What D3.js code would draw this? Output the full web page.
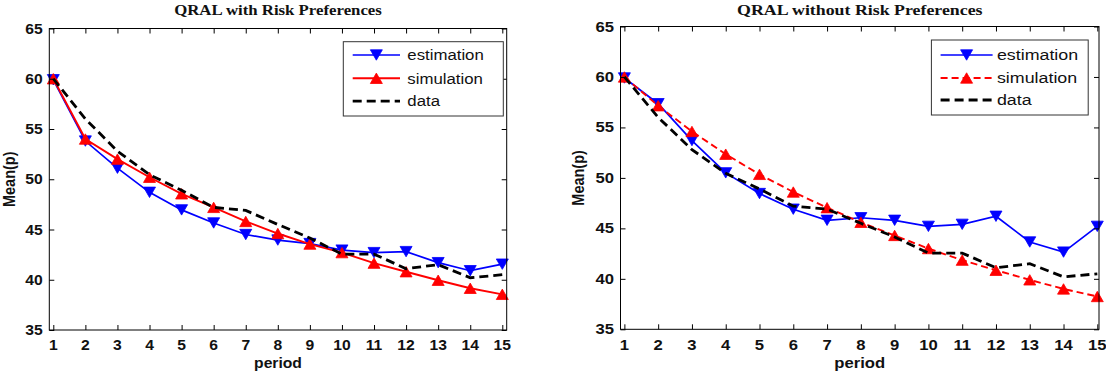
<!DOCTYPE html>
<html>
<head>
<meta charset="utf-8">
<script src="https://cdn.jsdelivr.net/npm/d3@7"></script>
<style>
  body { margin: 0; background: #fff; }
  svg { display: block; }
</style>
</head>
<body>
<svg id="chart"></svg>
<script>
// --- Data ---
const periods = [1, 2, 3, 4, 5, 6, 7, 8, 9, 10, 11, 12, 13, 14, 15];
const yTicks = [35, 40, 45, 50, 55, 60, 65];

// observed mean price (same in both panels)
const dataMean = [60, 56.0, 52.8, 50.45, 48.9, 47.2, 46.9, 45.5, 44.15, 42.55, 42.55, 41.1, 41.5, 40.2, 40.5];

// with risk preferences
const estWith = [59.9, 53.8, 51.1, 48.7, 46.95, 45.65, 44.5, 43.95, 43.6, 42.95, 42.7, 42.8, 41.7, 40.9, 41.55];
const simWith = [60, 54.0, 52.0, 50.2, 48.55, 47.2, 45.8, 44.6, 43.55, 42.7, 41.65, 40.8, 39.95, 39.15, 38.55];

// without risk preferences
const estWithout = [59.9, 57.35, 53.7, 50.5, 48.45, 46.9, 45.8, 46.05, 45.8, 45.2, 45.4, 46.2, 43.65, 42.65, 45.2];
const simWithout = [60, 57.15, 54.6, 52.35, 50.35, 48.6, 47.05, 45.6, 44.3, 43.0, 41.85, 40.85, 39.9, 39.0, 38.25];

const legendLabels = ["estimation", "simulation", "data"];

// Chart dimensions
const width = 1106;
const height = 375;

const svg = d3.select("#chart")
  .attr("width", width)
  .attr("height", height)
  .attr("viewBox", `0 0 ${width} ${height}`);

svg.append("rect").attr("width", width).attr("height", height).attr("fill", "#fff");

const panels = [
  {
    title: "QRAL with Risk Preferences",
    sx: 1.12, // the reference text is stretched horizontally
    left: 49.3, right: 506.7, top: 28.5, bottom: 330,
    xDomain: [0.875, 15.137],
    est: estWith, sim: simWith, simDash: null,
    legend: { x: 343.3, y: 41.7, w: 160, h: 74.3, lx1: 352.7, lx2: 400, tx: 407.3, rows: [55, 78.3, 101.2] },
    yLabelX: 10
  },
  {
    title: "QRAL without Risk Preferences",
    sx: 1.19,
    left: 620.5, right: 1099, top: 26.5, bottom: 329.3,
    xDomain: [0.885, 15.05],
    est: estWithout, sim: simWithout, simDash: "7,4",
    legend: { x: 931.4, y: 40, w: 156.8, h: 75, lx1: 940.6, lx2: 992.6, tx: 996.9, rows: [55, 78, 100] },
    yLabelX: 579
  }
];

const triangle = (down) => {
  const w = 6, h = 5.2;
  return down
    ? `M${-w},${-h}L${w},${-h}L0,${h}Z`
    : `M${-w},${h}L${w},${h}L0,${-h}Z`;
};

panels.forEach((p) => {
  const x = d3.scaleLinear().domain(p.xDomain).range([p.left, p.right]);
  const y = d3.scaleLinear().domain([35, 65]).range([p.bottom, p.top]);
  const g = svg.append("g");

  // place a text with the horizontal stretch of this panel
  const placeText = (sel, tx, ty, extra = "") =>
    sel.attr("transform", `translate(${tx},${ty}) scale(${p.sx},1)${extra}`);

  // --- 1. Title ---
  placeText(g.append("text"), (p.left + p.right) / 2, 15)
    .attr("text-anchor", "middle")
    .style("font-family", "'Liberation Serif', 'Times New Roman', serif")
    .style("font-size", "15px")
    .style("font-weight", "bold")
    .style("fill", "#111")
    .text(p.title);

  // --- 2. Lines and markers ---
  const line = d3.line().x((d, i) => x(periods[i])).y((d) => y(d));

  g.append("path")
    .attr("d", line(p.est))
    .attr("fill", "none")
    .attr("stroke", "#0000ff")
    .attr("stroke-width", 1.7);

  g.selectAll(".est-mark")
    .data(p.est)
    .join("path")
    .attr("class", "est-mark")
    .attr("transform", (d, i) => `translate(${x(periods[i])},${y(d)})`)
    .attr("d", triangle(true))
    .attr("fill", "#0000ff")
    .attr("stroke", "#0000ff")
    .attr("stroke-width", 0.8);

  g.append("path")
    .attr("d", line(p.sim))
    .attr("fill", "none")
    .attr("stroke", "#ff0000")
    .attr("stroke-width", 1.9)
    .attr("stroke-dasharray", p.simDash);

  g.selectAll(".sim-mark")
    .data(p.sim)
    .join("path")
    .attr("class", "sim-mark")
    .attr("transform", (d, i) => `translate(${x(periods[i])},${y(d)})`)
    .attr("d", triangle(false))
    .attr("fill", "#ff0000")
    .attr("stroke", "#ff0000")
    .attr("stroke-width", 0.8);

  g.append("path")
    .attr("d", line(dataMean))
    .attr("fill", "none")
    .attr("stroke", "#000")
    .attr("stroke-width", 2.8)
    .attr("stroke-dasharray", "9,5");

  // --- 3. Axes box with inward ticks ---
  g.append("rect")
    .attr("x", p.left).attr("y", p.top)
    .attr("width", p.right - p.left).attr("height", p.bottom - p.top)
    .attr("fill", "none")
    .attr("stroke", "#000")
    .attr("stroke-width", 1);

  const tk = 5;
  g.append("g").attr("transform", `translate(0,${p.bottom})`)
    .call(d3.axisBottom(x).tickValues(periods).tickSize(-tk).tickFormat(""))
    .call((a) => a.select(".domain").remove());
  g.append("g").attr("transform", `translate(0,${p.top})`)
    .call(d3.axisTop(x).tickValues(periods).tickSize(-tk).tickFormat(""))
    .call((a) => a.select(".domain").remove());
  g.append("g").attr("transform", `translate(${p.left},0)`)
    .call(d3.axisLeft(y).tickValues(yTicks).tickSize(-tk).tickFormat(""))
    .call((a) => a.select(".domain").remove());
  g.append("g").attr("transform", `translate(${p.right},0)`)
    .call(d3.axisRight(y).tickValues(yTicks).tickSize(-tk).tickFormat(""))
    .call((a) => a.select(".domain").remove());

  // tick labels
  periods.forEach((v) => {
    placeText(g.append("text"), x(v), 350)
      .attr("text-anchor", "middle")
      .style("font-family", "'Liberation Sans', Arial, sans-serif")
      .style("font-size", "14px")
      .style("font-weight", "bold")
      .style("fill", "#111")
      .text(v);
  });
  yTicks.forEach((v) => {
    placeText(g.append("text"), p.left - 6.6, y(v) + 5)
      .attr("text-anchor", "end")
      .style("font-family", "'Liberation Sans', Arial, sans-serif")
      .style("font-size", "14px")
      .style("font-weight", "bold")
      .style("fill", "#111")
      .text(v);
  });

  // axis titles
  placeText(g.append("text"), (p.left + p.right) / 2, 368)
    .attr("text-anchor", "middle")
    .style("font-family", "'Liberation Sans', Arial, sans-serif")
    .style("font-size", "14px")
    .style("font-weight", "bold")
    .style("fill", "#111")
    .text("period");

  placeText(g.append("text"), p.yLabelX + 5, (p.top + p.bottom) / 2, " rotate(-90)")
    .attr("text-anchor", "middle")
    .style("font-family", "'Liberation Sans', Arial, sans-serif")
    .style("font-size", "14.5px")
    .style("font-weight", "bold")
    .style("fill", "#111")
    .text("Mean(p)");

  // --- 4. Legend ---
  const L = p.legend;
  g.append("rect")
    .attr("x", L.x).attr("y", L.y).attr("width", L.w).attr("height", L.h)
    .attr("fill", "#fff")
    .attr("stroke", "#333")
    .attr("stroke-width", 1);

  const styles = [
    { color: "#0000ff", w: 1.7, dash: null, mark: true, down: true },
    { color: "#ff0000", w: 1.9, dash: p.simDash, mark: true, down: false },
    { color: "#000", w: 2.8, dash: "9,5", mark: false }
  ];
  legendLabels.forEach((lab, i) => {
    const s = styles[i];
    const ly = L.rows[i];
    g.append("line")
      .attr("x1", L.lx1).attr("x2", L.lx2).attr("y1", ly).attr("y2", ly)
      .attr("stroke", s.color)
      .attr("stroke-width", s.w)
      .attr("stroke-dasharray", s.dash);
    if (s.mark) {
      g.append("path")
        .attr("transform", `translate(${(L.lx1 + L.lx2) / 2},${ly})`)
        .attr("d", triangle(s.down))
        .attr("fill", s.color)
        .attr("stroke", s.color)
        .attr("stroke-width", 0.8);
    }
    placeText(g.append("text"), L.tx, ly + 5.2)
      .style("font-family", "'Liberation Sans', Arial, sans-serif")
      .style("font-size", "15px")
      .style("fill", "#111")
      .text(lab);
  });
});
</script>
</body>
</html>
